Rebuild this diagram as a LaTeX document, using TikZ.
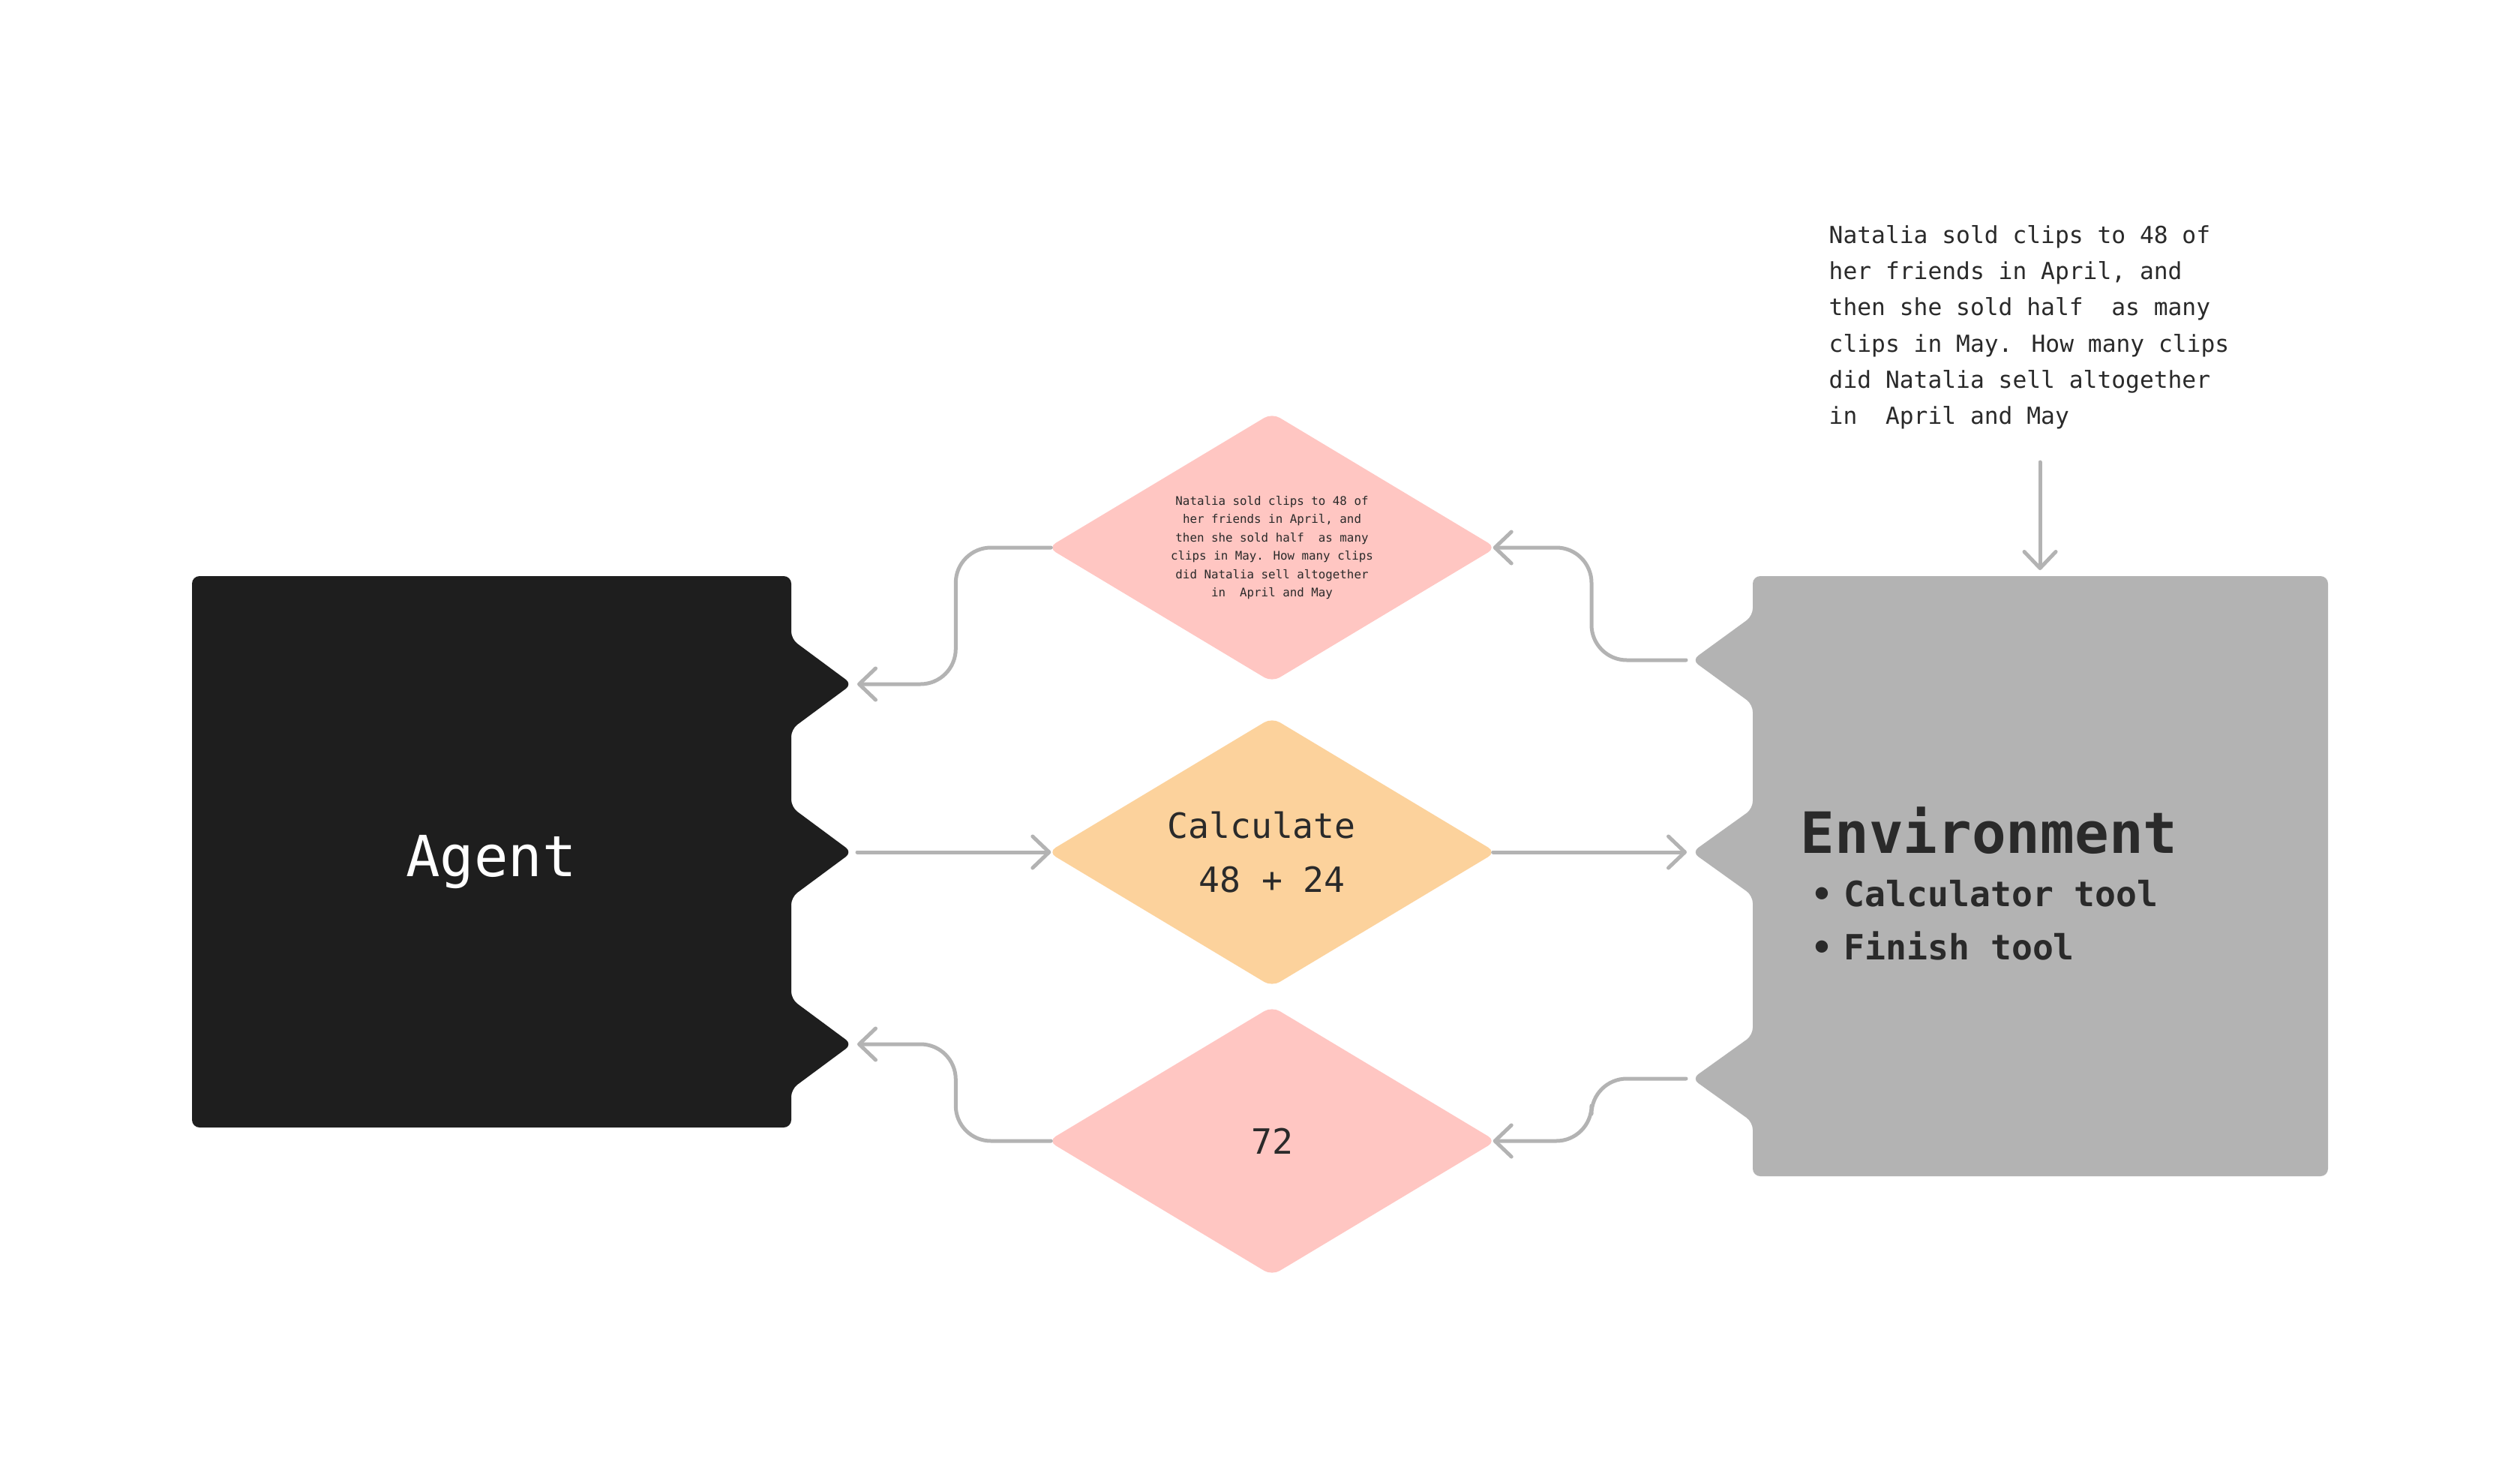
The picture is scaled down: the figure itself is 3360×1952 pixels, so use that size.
\documentclass[tikz,border=0pt]{standalone}
\usepackage{fontspec}
\usetikzlibrary{arrows.meta,shapes.geometric}
\newfontfamily\dmono{DejaVu Sans Mono}
\definecolor{agentc}{HTML}{1E1E1E}
\definecolor{envc}{HTML}{B3B3B3}
\definecolor{pinkc}{HTML}{FFC6C2}
\definecolor{orangec}{HTML}{FCD29C}
\definecolor{linec}{HTML}{B3B3B3}
\definecolor{txtc}{HTML}{2A2A2A}
\tikzset{
  conn/.style={draw=linec, line width=0.5mm, line cap=round, line join=round,
    rounded corners=4.7mm, -{Straight Barb[length=2.2mm,width=4.2mm,round]}},
  dia/.style={diamond, aspect=1.62, minimum width=59.8mm, minimum height=35.9mm,
    inner sep=0pt, rounded corners=1.2mm, align=center, text=txtc},
  plain/.style={inner sep=0pt, text=txtc},
}
\begin{document}
\begin{tikzpicture}[x=0.1mm,y=-0.1mm]
\useasboundingbox (0,0) rectangle (3360,1952);
\fill[white] (0,0) rectangle (3360,1952);

% Agent block
\fill[agentc, rounded corners=1mm] (256,768) -- (1055,768) -- (1055,852) -- (1136,912) -- (1055,972)
  -- (1055,1076) -- (1136,1136) -- (1055,1196)
  -- (1055,1332) -- (1136,1392) -- (1055,1452)
  -- (1055,1503) -- (256,1503) -- cycle;
\coordinate (at1) at (1136,912);
\coordinate (at2) at (1136,1136);
\coordinate (at3) at (1136,1392);
\node[inner sep=0pt, text=white, anchor=base, font=\dmono\fontsize{21.5}{26}\selectfont] (agent) at (655,1168) {Agent};

% Environment block
\fill[envc, rounded corners=1mm] (2337,768) -- (3104,768) -- (3104,1568) -- (2337,1568)
  -- (2337,1496) -- (2256,1438) -- (2337,1380)
  -- (2337,1194) -- (2256,1136) -- (2337,1078)
  -- (2337,939) -- (2256,880) -- (2337,821) -- cycle;
\coordinate (et1) at (2256,880);
\coordinate (et2) at (2256,1136);
\coordinate (et3) at (2256,1438);
\coordinate (envtop) at (2720,768);
\node[plain, anchor=base west, font=\dmono\bfseries\fontsize{21.6}{26}\selectfont] (env) at (2400,1137) {Environment};
\node[plain, anchor=base west, font=\dmono\bfseries\fontsize{13.2}{16}\selectfont] (tool1) at (2415,1208) {•\hspace{1.5mm}Calculator tool};
\node[plain, anchor=base west, font=\dmono\bfseries\fontsize{13.2}{16}\selectfont] (tool2) at (2415,1279) {•\hspace{1.5mm}Finish tool};

% Question text
\node[plain, anchor=north west, align=left, font=\dmono\fontsize{8.9}{13.7}\selectfont] (q) at (2438,300)
  {Natalia sold clips to 48 of\\her friends in April, and\\then she sold half~~as many\\clips in May. How many clips\\did Natalia sell altogether\\in~~April and May};
\coordinate (qa) at (2720,616);

% Diamonds
\node[dia, fill=pinkc, font=\dmono\fontsize{4.5}{6.94}\selectfont] (d1) at (1696,730)
  {Natalia sold clips to 48 of\\her friends in April, and\\then she sold half~~as many\\clips in May. How many clips\\did Natalia sell altogether\\in~~April and May};
\node[dia, fill=orangec, font=\dmono\fontsize{13.2}{20.5}\selectfont] (d2) at (1696,1136)
  {Calculate\hphantom{4}\\48 + 24};
\node[dia, fill=pinkc, font=\dmono\fontsize{13.2}{20.5}\selectfont] (d3) at (1696,1521) {72};

% Connectors
\draw[conn] (qa) -- ([yshift=0.8mm]envtop);
\draw[conn] ([xshift=0.5mm]d1.west) -- ++(-127,0) |- ([xshift=0.7mm]at1);
\draw[conn] ([xshift=0.7mm]at2) -- ([xshift=0.5mm]d2.west);
\draw[conn] ([xshift=-0.5mm]d2.east) -- ([xshift=-0.7mm]et2);
\draw[conn] ([xshift=0.5mm]d3.west) -- ++(-127,0) |- ([xshift=0.7mm]at3);
\draw[conn] ([xshift=-0.8mm]et1) -- ++(-126,0) |- ([xshift=-0.5mm]d1.east);
\draw[conn] ([xshift=-0.8mm]et3) -- ++(-126,0) |- ([xshift=-0.5mm]d3.east);
\end{tikzpicture}
\end{document}
